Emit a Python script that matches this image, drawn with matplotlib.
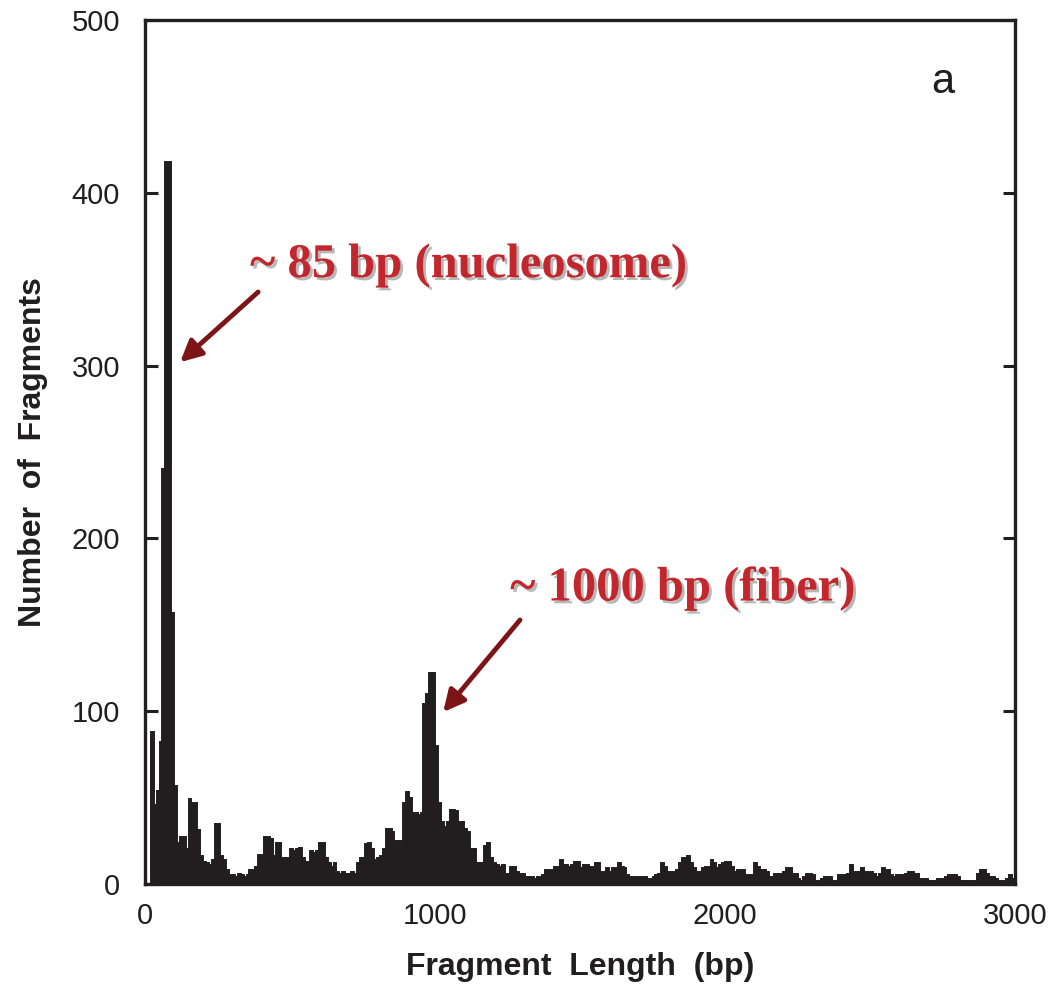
import numpy as np
import matplotlib
matplotlib.use("Agg")
import matplotlib.pyplot as plt
import matplotlib.patheffects as pe

# Histogram: 10 bp bins from 0 to 3000 bp
bin_width = 10
counts = [
    0, 0, 88, 46, 54, 82, 240, 418, 418, 157,          # 0-100
    57, 24, 27, 27, 20, 49, 47, 47, 31, 16,            # 100-200
    13, 12, 11, 14, 35, 35, 16, 14, 8, 5,              # 200-300
    5, 4, 6, 5, 4, 5, 8, 8, 10, 17,                    # 300-400
    17, 27, 27, 26, 16, 24, 24, 15, 15, 15,            # 400-500
    20, 19, 20, 21, 15, 13, 13, 19, 18, 19,            # 500-600
    24, 24, 15, 12, 10, 12, 7, 6, 7, 6,                # 600-700
    6, 7, 6, 12, 15, 15, 23, 24, 20, 14,               # 700-800
    15, 16, 20, 32, 32, 30, 25, 25, 25, 47,            # 800-900
    53, 50, 41, 41, 40, 41, 104, 110, 122, 122,        # 900-1000
    80, 47, 36, 33, 36, 43, 43, 42, 36, 36,            # 1000-1100
    32, 30, 20, 20, 12, 10, 12, 22, 24, 15,            # 1100-1200
    12, 11, 10, 11, 6, 6, 10, 10, 7, 6,                # 1200-1300
    6, 4, 4, 4, 3, 4, 4, 5, 8, 8,                      # 1300-1400
    8, 10, 10, 14, 11, 11, 10, 11, 13, 13,             # 1400-1500
    9, 11, 11, 10, 10, 12, 12, 7, 7, 9,                # 1500-1600
    7, 9, 9, 12, 10, 9, 5, 4, 4, 4,                    # 1600-1700
    4, 4, 4, 3, 3, 4, 5, 6, 12, 10,                    # 1700-1800
    7, 7, 7, 8, 12, 15, 15, 16, 12, 9,                 # 1800-1900
    7, 7, 9, 10, 10, 14, 12, 9, 11, 12,                # 1900-2000
    13, 13, 10, 7, 8, 8, 8, 5, 5, 5,                   # 2000-2100
    12, 10, 8, 8, 7, 4, 4, 6, 6, 6,                    # 2100-2200
    7, 9, 9, 6, 6, 3, 2, 4, 6, 6,                      # 2200-2300
    5, 2, 2, 3, 4, 3, 4, 2, 2, 5,                      # 2300-2400
    5, 5, 6, 11, 7, 6, 7, 9, 7, 7,                     # 2400-2500
    7, 6, 4, 6, 9, 5, 8, 5, 4, 5,                      # 2500-2600
    5, 5, 6, 7, 7, 6, 6, 3, 3, 3,                      # 2600-2700
    2, 2, 2, 3, 3, 3, 4, 5, 5, 5,                      # 2700-2800
    4, 2, 2, 2, 2, 2, 2, 6, 8, 8,                      # 2800-2900
    6, 4, 4, 3, 2, 2, 2, 3, 5, 3,                      # 2900-3000
]
x_ticks = [0, 1000, 2000, 3000]
y_ticks = [0, 100, 200, 300, 400, 500]
x_label = "Fragment  Length  (bp)"
y_label = "Number  of  Fragments"
panel_label = "a"
note1 = "~ 85 bp (nucleosome)"
note2 = "~ 1000 bp (fiber)"

edges = np.arange(len(counts) + 1) * bin_width

ink = "#221e1f"
fig = plt.figure(figsize=(10.54, 9.86), dpi=100)
ax = fig.add_axes([0.1376, 0.1034, 0.963 - 0.1376, 0.9797 - 0.1034])

ax.stairs(counts, edges, fill=True, color=ink, lw=0)
ax.stairs(counts, edges, fill=False, color=ink, lw=1.4)

ax.set_xlim(0, 3000)
ax.set_ylim(0, 500)
ax.set_xticks(x_ticks)
ax.set_yticks(y_ticks)
for s in ax.spines.values():
    s.set_linewidth(2.4)
    s.set_color(ink)
ax.tick_params(axis="y", direction="in", length=9, width=2.2, color=ink,
               left=True, right=True, pad=18, labelsize=21, labelcolor=ink)
ax.tick_params(axis="x", direction="in", length=6, width=2.2, color=ink,
               bottom=True, top=False, pad=13, labelsize=21, labelcolor=ink)
for lab in ax.get_xticklabels() + ax.get_yticklabels():
    lab.set_family("Liberation Sans")

ax.set_xlabel(x_label, fontsize=23, fontweight="bold", family="Liberation Sans",
              color=ink, labelpad=16)
ax.set_ylabel(y_label, fontsize=23, fontweight="bold", family="Liberation Sans",
              color=ink, labelpad=17)

ax.text(2752, 464, panel_label, fontsize=30, family="Liberation Sans",
        color=ink, ha="center", va="center")

red = "#c1272d"
shadow = [pe.withSimplePatchShadow(offset=(2, -2), shadow_rgbFace="#999999", alpha=0.7)]
ax.text(362, 358, note1, fontsize=35, fontweight="bold", family="Liberation Serif",
        color=red, ha="left", va="center", path_effects=shadow)
ax.text(1259, 171, note2, fontsize=35, fontweight="bold", family="Liberation Serif",
        color=red, ha="left", va="center", path_effects=shadow)

arrow_color = "#7d1518"
ax.annotate("", xy=(121, 302), xytext=(390, 342.6),
            arrowprops=dict(arrowstyle="-|>", lw=3.5, color=arrow_color,
                            mutation_scale=32, shrinkA=0, shrinkB=0))
ax.annotate("", xy=(1028, 99.5), xytext=(1293, 152.8),
            arrowprops=dict(arrowstyle="-|>", lw=3.5, color=arrow_color,
                            mutation_scale=32, shrinkA=0, shrinkB=0))

fig.savefig("out.png", dpi=100)
